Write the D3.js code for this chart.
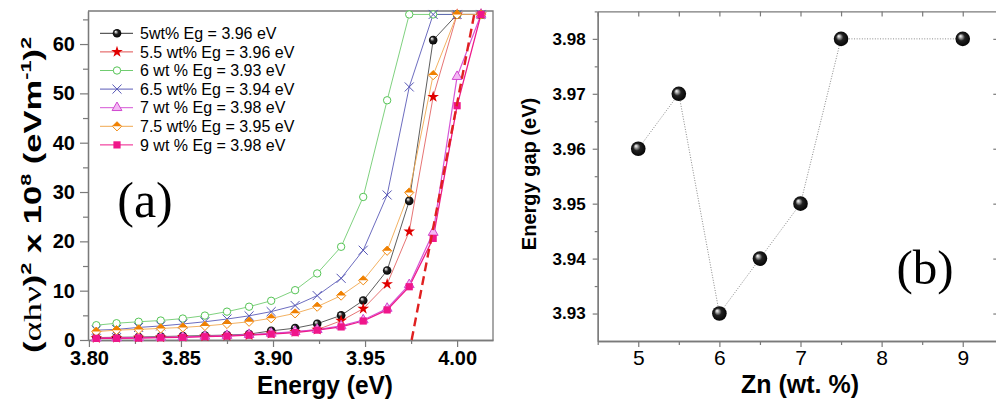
<!DOCTYPE html>
<html>
<head>
<meta charset="utf-8">
<script src="https://cdn.jsdelivr.net/npm/d3@7"></script>
<style>
  html, body { margin: 0; padding: 0; background: #fff; }
  svg { display: block; }
</style>
</head>
<body>
<script>
// ---------------- DATA ----------------
// Panel (a): photon energy (eV) of each measured point
const energy = [3.804, 3.815, 3.827, 3.839, 3.851, 3.863, 3.875, 3.887, 3.899,
                3.912, 3.924, 3.937, 3.949, 3.962, 3.974, 3.987, 4.000, 4.013];
// (alpha h nu)^2 x 10^8 for each Zn content
const s5  = [0.50, 0.55, 0.60, 0.70, 0.80, 0.90, 1.00, 1.20, 1.85, 2.40, 3.30, 5.00, 8.00, 14.1, 28.2, 60.8, 66.0, 66.0];
const s55 = [0.40, 0.45, 0.50, 0.55, 0.65, 0.75, 0.85, 1.00, 1.30, 1.65, 2.10, 3.90, 6.35, 11.35, 22.0, 49.3, 66.0, 66.0];
const s6  = [3.00, 3.40, 3.70, 3.95, 4.35, 4.95, 5.75, 6.75, 7.95, 10.1, 13.5, 18.9, 29.0, 48.6, 66.0, 66.0, 66.0, 66.0];
const s65 = [2.00, 2.15, 2.55, 2.85, 3.25, 3.70, 4.25, 4.90, 5.75, 7.00, 9.00, 12.5, 18.2, 29.4, 51.3, 66.0, 66.0, 66.0];
const s7  = [0.38, 0.42, 0.47, 0.55, 0.63, 0.75, 0.90, 1.10, 1.35, 1.70, 2.10, 2.85, 4.05, 6.40, 11.2, 21.8, 53.4, 66.0];
const s75 = [1.70, 2.00, 2.15, 2.35, 2.55, 2.85, 3.25, 3.70, 4.40, 5.40, 6.75, 9.00, 12.1, 18.1, 29.9, 53.7, 66.0, 66.0];
const s9  = [0.34, 0.35, 0.40, 0.47, 0.55, 0.67, 0.80, 1.00, 1.20, 1.50, 2.00, 2.65, 3.85, 6.10, 10.8, 20.6, 47.5, 66.0];
const legendLabels = ["5wt% Eg = 3.96 eV", "5.5 wt% Eg = 3.96 eV", "6 wt % Eg = 3.93 eV",
                      "6.5 wt% Eg = 3.94 eV", "7 wt % Eg = 3.98 eV", "7.5 wt% Eg = 3.95 eV",
                      "9 wt % Eg = 3.98 eV"];
// Tauc extrapolation line (energy, value)
const fitEnergy = [3.9753, 4.0097];
const fitValue  = [0, 66.8];
const xTicksA = [3.80, 3.85, 3.90, 3.95, 4.00];
const xMinorA = [3.825, 3.875, 3.925, 3.975];
const yTicksA = [0, 10, 20, 30, 40, 50, 60];
const yMinorA = [5, 15, 25, 35, 45, 55, 65];

// Panel (b)
const zn = [5, 5.5, 6, 6.5, 7, 7.5, 9];
const gap = [3.96, 3.97, 3.93, 3.94, 3.95, 3.98, 3.98];
const xTicksB = [5, 6, 7, 8, 9];
const xMinorB = [4.5, 5.5, 6.5, 7.5, 8.5, 9.5];
const yTicksB = [3.93, 3.94, 3.95, 3.96, 3.97, 3.98];
const yMinorB = [3.935, 3.945, 3.955, 3.965, 3.975, 3.985];

// ---------------- SETUP ----------------
const W = 996, H = 401;
const FONT = "'Liberation Sans', Arial, Helvetica, sans-serif";
const svg = d3.select("body").append("svg")
  .attr("width", W).attr("height", H)
  .style("font-family", FONT);

const defs = svg.append("defs");
const grad = defs.append("radialGradient").attr("id", "sphere")
  .attr("cx", "50%").attr("cy", "50%").attr("r", "55%")
  .attr("fx", "33%").attr("fy", "30%");
grad.append("stop").attr("offset", "0%").attr("stop-color", "#ffffff");
grad.append("stop").attr("offset", "18%").attr("stop-color", "#b0b0b0");
grad.append("stop").attr("offset", "45%").attr("stop-color", "#222");
grad.append("stop").attr("offset", "100%").attr("stop-color", "#000");

const AXC = "#7a7a7a";

// ---------------- PANEL A ----------------
const xA = d3.scaleLinear().domain([3.7995, 4.0195]).range([88, 493]);
const yA = d3.scaleLinear().domain([0, 66.7]).range([340, 11]);

const series = [
  {vals: s5,  line: "#333333", lw: 0.8, mk: "sphere"},
  {vals: s55, line: "#e05050", lw: 0.8, mk: "star"},
  {vals: s6,  line: "#70cc70", lw: 0.9, mk: "circle"},
  {vals: s65, line: "#5b5bb8", lw: 0.9, mk: "times"},
  {vals: s7,  line: "#d655d6", lw: 1.2, mk: "triangle"},
  {vals: s75, line: "#f0a850", lw: 0.9, mk: "diamond"},
  {vals: s9,  line: "#ee1a8a", lw: 1.3, mk: "square"}
];

function drawMarker(g, type) {
  switch (type) {
    case "sphere":
      g.append("circle").attr("r", 4.3).attr("fill", "url(#sphere)");
      break;
    case "star":
      g.append("path").attr("d", d3.symbol(d3.symbolStar, 42)()).attr("fill", "#e00000");
      break;
    case "circle":
      g.append("circle").attr("r", 3.7).attr("fill", "#fff").attr("stroke", "#55c455").attr("stroke-width", 1);
      break;
    case "times":
      g.append("path").attr("d", d3.symbol(d3.symbolTimes, 55)()).attr("fill", "none")
        .attr("stroke", "#5555b5").attr("stroke-width", 1);
      break;
    case "triangle":
      g.append("path").attr("d", d3.symbol(d3.symbolTriangle, 42)()).attr("fill", "#f4b8f4")
        .attr("stroke", "#d048d0").attr("stroke-width", 1);
      break;
    case "diamond":
      g.append("path").attr("d", "M0,-4.6L4.6,0L0,4.6L-4.6,0Z").attr("fill", "#fff")
        .attr("stroke", "#f08a10").attr("stroke-width", 1);
      g.append("path").attr("d", "M-4.6,0L0,-4.6L4.6,0Z").attr("fill", "#f08000");
      break;
    case "square":
      g.append("rect").attr("x", -3.6).attr("y", -3.6).attr("width", 7.2).attr("height", 7.2)
        .attr("fill", "#f0168a");
      break;
  }
}

// axes
function styleAxis(g, fs, weight) {
  g.attr("color", AXC);
  g.selectAll(".domain").attr("stroke-width", 1.3);
  g.selectAll(".tick line").attr("stroke-width", 1.2);
  g.selectAll("text").attr("fill", "#000").style("font-size", fs + "px").style("font-weight", weight)
    .style("font-family", FONT);
}

const gxA = svg.append("g").attr("transform", `translate(0,${yA(0)})`)
  .call(d3.axisBottom(xA).tickValues(xTicksA).tickSize(7).tickPadding(4).tickFormat(d3.format(".2f")).tickSizeOuter(0));
styleAxis(gxA, 20, "bold");
const gxAm = svg.append("g").attr("transform", `translate(0,${yA(0)})`)
  .call(d3.axisBottom(xA).tickValues(xMinorA).tickSize(4).tickFormat("").tickSizeOuter(0));
styleAxis(gxAm, 20, "bold");

const gyA = svg.append("g").attr("transform", `translate(${xA.range()[0]},0)`)
  .call(d3.axisLeft(yA).tickValues(yTicksA).tickSize(8).tickPadding(5).tickSizeOuter(0));
styleAxis(gyA, 20, "bold");
const gyAm = svg.append("g").attr("transform", `translate(${xA.range()[0]},0)`)
  .call(d3.axisLeft(yA).tickValues(yMinorA).tickSize(5).tickFormat("").tickSizeOuter(0));
styleAxis(gyAm, 20, "bold");

// frame top & right
svg.append("path")
  .attr("d", `M${xA.range()[0]},${yA.range()[1]}H${xA.range()[1]}V${yA.range()[0]}`)
  .attr("fill", "none").attr("stroke", AXC).attr("stroke-width", 1.3);

// series lines
const lineA = d3.line().x((d, i) => xA(energy[i])).y(d => yA(d));
series.forEach(s => {
  svg.append("path").attr("d", lineA(s.vals)).attr("fill", "none")
    .attr("stroke", s.line).attr("stroke-width", s.lw);
});
// markers
series.forEach(s => {
  s.vals.forEach((v, i) => {
    const g = svg.append("g").attr("transform", `translate(${xA(energy[i])},${yA(v)})`);
    drawMarker(g, s.mk);
  });
});
// fit line
svg.append("line")
  .attr("x1", xA(fitEnergy[0])).attr("y1", yA(fitValue[0]))
  .attr("x2", xA(fitEnergy[1])).attr("y2", yA(fitValue[1]))
  .attr("stroke", "#e02020").attr("stroke-width", 2.4).attr("stroke-dasharray", "9,5");

// legend
legendLabels.forEach((lab, i) => {
  const y = 33.3 + i * 18.6;
  const g = svg.append("g");
  g.append("line").attr("x1", 100).attr("x2", 133).attr("y1", y).attr("y2", y)
    .attr("stroke", series[i].line).attr("stroke-width", 1);
  const m = g.append("g").attr("transform", `translate(117,${y})`);
  drawMarker(m, series[i].mk);
  g.append("text").attr("x", 140).attr("y", y).attr("dy", "0.36em")
    .style("font-size", "16px").attr("fill", "#000").text(lab);
});

// axis titles panel a
const xtA = svg.append("text").attr("text-anchor", "middle")
  .style("font-size", "25px").style("font-weight", "bold").attr("fill", "#000")
  .text("Energy (eV)");
{
  const len = xtA.node().getComputedTextLength();
  const sx = 136 / len;
  xtA.attr("transform", `translate(325,394) scale(${sx},1.05)`);
}

const ytA = svg.append("text").attr("text-anchor", "middle")
  .style("font-size", "24px").style("font-weight", "bold").attr("fill", "#000");
ytA.append("tspan").text("(");
ytA.append("tspan").style("font-family", "'Liberation Serif', 'DejaVu Serif', serif").style("font-weight", "normal").style("font-size", "26px").text("αhν");
ytA.append("tspan").text(")");
ytA.append("tspan").style("font-size", "15px").attr("dy", -10).text("2");
ytA.append("tspan").attr("dy", 10).text(" x 10");
ytA.append("tspan").style("font-size", "15px").attr("dy", -10).text("8");
ytA.append("tspan").attr("dy", 10).text(" (eVm");
ytA.append("tspan").style("font-size", "15px").attr("dy", -10).text("-1");
ytA.append("tspan").attr("dy", 10).text(")");
ytA.append("tspan").style("font-size", "15px").attr("dy", -10).text("2");
{
  const len = ytA.node().getComputedTextLength();
  const sx = 316 / len;
  ytA.attr("transform", `translate(41,195) rotate(-90) scale(${sx},1)`);
}

// (a) label
svg.append("text").attr("x", 145).attr("y", 217).attr("text-anchor", "middle")
  .style("font-family", "'Liberation Serif', 'Times New Roman', serif").style("font-size", "50px")
  .attr("fill", "#000").text("(a)");

// ---------------- PANEL B ----------------
const xB = d3.scaleLinear().domain([4.5, 9.5]).range([597.7, 1003.3]);
const yB = d3.scaleLinear().domain([3.925, 3.985]).range([341, 11.4]);

const gxB = svg.append("g").attr("transform", `translate(0,${yB.range()[0]})`)
  .call(d3.axisBottom(xB).tickValues(xTicksB).tickSize(6).tickPadding(3).tickFormat(d3.format("d")).tickSizeOuter(0));
styleAxis(gxB, 21, "normal");
const gxBm = svg.append("g").attr("transform", `translate(0,${yB.range()[0]})`)
  .call(d3.axisBottom(xB).tickValues(xMinorB).tickSize(4).tickFormat("").tickSizeOuter(0));
styleAxis(gxBm, 21, "normal");

const gyB = svg.append("g").attr("transform", `translate(${xB.range()[0]},0)`)
  .call(d3.axisLeft(yB).tickValues(yTicksB).tickSize(5).tickPadding(7).tickFormat(d3.format(".2f")).tickSizeOuter(0));
styleAxis(gyB, 17, "bold");
const gyBm = svg.append("g").attr("transform", `translate(${xB.range()[0]},0)`)
  .call(d3.axisLeft(yB).tickValues(yMinorB).tickSize(3).tickFormat("").tickSizeOuter(0));
styleAxis(gyBm, 17, "bold");

// top axis (inward ticks)
const gtB = svg.append("g").attr("transform", `translate(0,${yB.range()[1]})`)
  .call(d3.axisTop(xB).tickValues(xTicksB.concat(xMinorB)).tickSize(-5).tickFormat("").tickSizeOuter(0));
styleAxis(gtB, 17, "bold");
// right axis (inward ticks)
const grB = svg.append("g").attr("transform", `translate(${xB.range()[1]},0)`)
  .call(d3.axisRight(yB).tickValues(yTicksB).tickSize(-10).tickFormat("").tickSizeOuter(0));
styleAxis(grB, 17, "bold");

// dotted connecting line
svg.append("path")
  .attr("d", d3.line().x((d, i) => xB(zn[i])).y(d => yB(d))(gap))
  .attr("fill", "none").attr("stroke", "#8a8a8a").attr("stroke-width", 1)
  .attr("stroke-dasharray", "1,1.6");

gap.forEach((v, i) => {
  svg.append("circle").attr("cx", xB(zn[i])).attr("cy", yB(v)).attr("r", 7.3)
    .attr("fill", "url(#sphere)");
});

svg.append("text").attr("text-anchor", "middle").attr("x", 800).attr("y", 393)
  .style("font-size", "25px").style("font-weight", "bold").attr("fill", "#000")
  .text("Zn (wt. %)");

svg.append("text").attr("text-anchor", "middle")
  .attr("transform", "translate(536,174) rotate(-90)")
  .style("font-size", "20px").style("font-weight", "bold").attr("fill", "#000")
  .text("Energy gap (eV)");

svg.append("text").attr("x", 925).attr("y", 284).attr("text-anchor", "middle")
  .style("font-family", "'Liberation Serif', 'Times New Roman', serif").style("font-size", "49px")
  .attr("fill", "#000").text("(b)");
</script>
</body>
</html>
